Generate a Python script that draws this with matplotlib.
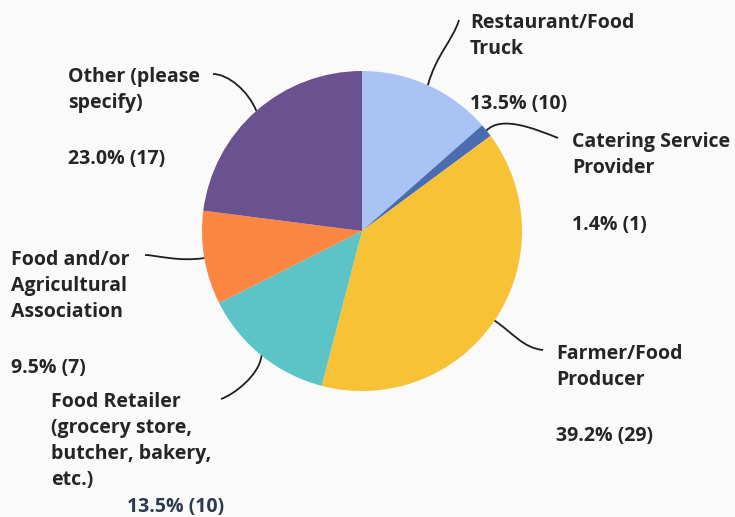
import numpy as np
import matplotlib.pyplot as plt
from matplotlib.path import Path
from matplotlib.patches import PathPatch

plt.rcParams['font.family'] = ['Open Sans', 'DejaVu Sans']

# survey answers, clockwise from 12 o'clock
names = ["Restaurant/Food\nTruck",
         "Catering Service\nProvider",
         "Farmer/Food\nProducer",
         "Food Retailer\n(grocery store,\nbutcher, bakery,\netc.)",
         "Food and/or\nAgricultural\nAssociation",
         "Other (please\nspecify)"]
counts = [10, 1, 29, 10, 7, 17]
colors = ["#a9c3f5", "#4b6db0", "#f8c236", "#5cc3c6", "#fb8743", "#6a5190"]

W, H = 735, 517
cx, cy, R = 362, H - 231, 160

fig = plt.figure(figsize=(W / 100, H / 100), dpi=100)
fig.patch.set_facecolor("#fafafa")
ax = fig.add_axes([0, 0, 1, 1])
ax.pie(counts, colors=colors, startangle=90, counterclock=False,
       center=(cx, cy), radius=R, wedgeprops=dict(linewidth=0))
ax.set_xlim(0, W)
ax.set_ylim(0, H)
ax.set_aspect("equal")
ax.set_axis_off()

total = sum(counts)
pcts = ["%.1f%% (%d)" % (100 * c / total, c) for c in counts]

# label placement in pixels from the top-left: name x, name y, pct x, pct y
spots = [(470, 22, 470, 103),
         (572, 141, 572, 224),
         (556, 353, 556, 435),
         (51, 401, 127, 506),
         (11, 259, 11, 367),
         (68, 76, 68, 158)]
# leader line end (pixels) and bezier control offsets
ends = [(459, 20), (558, 138), (543, 350), (221, 399), (145, 255), (213, 74)]
bends = [((8, -30), (-6, 20)), ((15, -15), (-25, -10)), ((18, 12), (-20, -2)),
         ((-2, 20), (12, -4)), ((-25, 4), (10, 0)), ((-8, -20), (15, 0))]

fs = 14
cum = 0
for i, c in enumerate(counts):
    mid = np.deg2rad(90 - 360 * (cum + c / 2) / total)
    cum += c
    x0 = cx + R * np.cos(mid)
    y0 = cy + R * np.sin(mid)
    ex, ey = ends[i]
    ey = H - ey
    (a1, b1), (a2, b2) = bends[i]
    verts = [(x0, y0), (x0 + a1, y0 - b1), (ex + a2, ey - b2), (ex, ey)]
    path = Path(verts, [Path.MOVETO, Path.CURVE4, Path.CURVE4, Path.CURVE4])
    ax.add_patch(PathPatch(path, fc="none", ec="#1e1e1e", lw=1.3))

    nx, ny, px, py = spots[i]
    ax.text(nx, H - ny + 9, names[i], fontsize=fs, fontweight="bold",
            color="#252525", ha="left", va="top", linespacing=1.4)
    pc = "#2c3a4e" if i == 3 else "#252525"
    ax.text(px, H - py - 1, pcts[i], fontsize=fs, fontweight="bold",
            color=pc, ha="left", va="center")

fig.savefig("out.png", dpi=100, facecolor=fig.get_facecolor())
